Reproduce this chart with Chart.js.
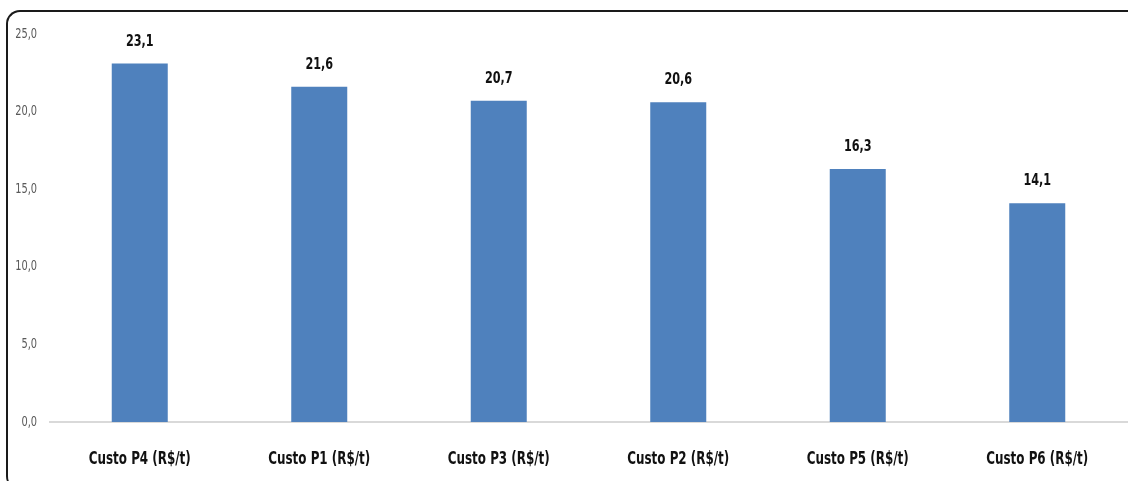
<!DOCTYPE html>
<html>
<head>
<meta charset="utf-8">
<script src="https://cdn.jsdelivr.net/npm/chart.js@4/dist/chart.umd.min.js"></script>
<style>
  html, body { margin: 0; padding: 0; background: #fff; overflow: hidden; }
  #wrap { position: relative; width: 1128px; height: 481px; }
  #frame {
    position: absolute; left: 6px; top: 10px; width: 1200px; height: 480px;
    border-left: 2px solid #1a1a1a; border-top: 2px solid #1a1a1a;
    border-radius: 14px 0 0 14px; box-sizing: border-box;
  }
  canvas { position: absolute; left: 0; top: 0; }
</style>
</head>
<body>
<div id="wrap">
  <div id="frame"></div>
  <canvas id="custo-chart" width="1128" height="481"></canvas>
</div>
<script>
// Custos por ponto (R$/t)
var categorias = ['Custo P4 (R$/t)', 'Custo P1 (R$/t)', 'Custo P3 (R$/t)', 'Custo P2 (R$/t)', 'Custo P5 (R$/t)', 'Custo P6 (R$/t)'];
var custos = [23.1, 21.6, 20.7, 20.6, 16.3, 14.1];
var eixoY = [0, 5, 10, 15, 20, 25];

var fonte = '"DejaVu Sans Condensed", "DejaVu Sans", sans-serif';
var aperto = 0.78; // compressao horizontal do texto (fonte estreita)

function fmt(v) {
  return v.toFixed(1).replace('.', ',');
}

function texto(ctx, s, x, y, align) {
  ctx.save();
  ctx.translate(x, y);
  ctx.scale(aperto, 1);
  ctx.textAlign = align;
  ctx.fillText(s, 0, 0);
  ctx.restore();
}

// eixos e rotulos de valor desenhados com texto estreito
var rotulos = {
  id: 'rotulos',
  afterDatasetsDraw: function(chart) {
    var ctx = chart.ctx;
    var xs = chart.scales.x, ys = chart.scales.y;
    var meta = chart.getDatasetMeta(0);
    ctx.save();
    ctx.textBaseline = 'middle';

    ctx.fillStyle = '#595959';
    ctx.font = '14px ' + fonte;
    eixoY.forEach(function(v) {
      texto(ctx, fmt(v), xs.left - 13, ys.getPixelForValue(v), 'right');
    });

    ctx.fillStyle = '#111';
    ctx.font = 'bold 17px ' + fonte;
    categorias.forEach(function(c, i) {
      texto(ctx, c, xs.getPixelForValue(i), ys.bottom + 38, 'center');
    });

    ctx.font = 'bold 16px ' + fonte;
    meta.data.forEach(function(bar, i) {
      texto(ctx, fmt(custos[i]), bar.x, bar.y - 22, 'center');
    });
    ctx.restore();
  }
};

var ctx = document.getElementById('custo-chart').getContext('2d');
var chart = new Chart(ctx, {
  type: 'bar',
  data: {
    labels: categorias,
    datasets: [{
      data: custos,
      backgroundColor: '#4F81BD',
      borderWidth: 0,
      categoryPercentage: 1,
      barPercentage: 0.312
    }]
  },
  options: {
    responsive: false,
    animation: false,
    layout: { padding: { top: 34, right: 1, left: 0, bottom: 0 } },
    plugins: {
      legend: { display: false },
      tooltip: { enabled: false }
    },
    scales: {
      x: {
        grid: { display: false, drawTicks: false },
        border: { display: true, color: '#d9d9d9', width: 2 },
        ticks: { display: false },
        afterFit: function(s) { s.height = 59; }
      },
      y: {
        min: 0,
        max: 25,
        afterBuildTicks: function(s) {
          s.ticks = eixoY.map(function(v) { return { value: v }; });
        },
        grid: { display: false, drawTicks: false },
        border: { display: false },
        ticks: { display: false },
        afterFit: function(s) { s.width = 50; }
      }
    }
  },
  plugins: [rotulos]
});
</script>
</body>
</html>
